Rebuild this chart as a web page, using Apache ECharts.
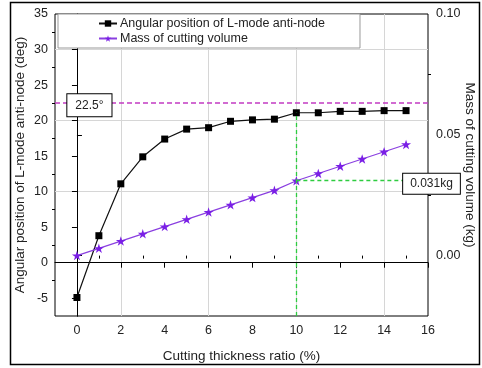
<!DOCTYPE html>
<html>
<head>
<meta charset="utf-8">
<script src="https://cdn.jsdelivr.net/npm/echarts@6/dist/echarts.min.js"></script>
<style>
  html, body { margin: 0; padding: 0; background: #fff; }
  #chart { width: 482px; height: 368px; }
</style>
</head>
<body>
<div id="chart"></div>
<script>
// values
const ratio = [0, 1, 2, 3, 4, 5, 6, 7, 8, 9, 10, 11, 12, 13, 14, 15];
const angle = [-4.9, 3.8, 11.1, 14.9, 17.4, 18.8, 19.0, 19.9, 20.1, 20.2, 21.1, 21.1, 21.3, 21.3, 21.4, 21.4];
const mass = [0.000, 0.003, 0.006, 0.009, 0.012, 0.015, 0.018, 0.021, 0.024, 0.027, 0.031, 0.034, 0.037, 0.040, 0.043, 0.046];

const xTicks = [0, 2, 4, 6, 8, 10, 12, 14, 16];
const xMinor = [1, 3, 5, 7, 9, 11, 13, 15];
const angleTicks = [-5, 0, 5, 10, 15, 20, 25, 30, 35];
const angleMinor = [-2.5, 2.5, 7.5, 12.5, 17.5, 22.5, 27.5, 32.5];
const massTicks = [0, 0.05, 0.1];
const massMinor = [0.025, 0.075];

const targetAngle = 22.5;
const markIdx = 10; // 10 % ratio, highlighted with the green guides

const seriesNames = ['Angular position of L-mode anti-node', 'Mass of cutting volume'];

const FONT = 'Liberation Sans';
const TXT = '#222';
const starPath = 'path://M10 0 L12.245 6.91 L19.511 6.91 L13.633 11.18 L15.878 18.09 L10 13.82 L4.122 18.09 L6.367 11.18 L0.489 6.91 L7.755 6.91 Z';

const chart = echarts.init(document.getElementById('chart'), null, { renderer: 'canvas' });

const gridLines = { show: true, lineStyle: { color: ['rgba(0,0,0,0)', '#d6d6d6'], width: 1 } };
const label = { fontFamily: FONT, fontSize: 12.5, color: TXT };

const option = {
  animation: false,
  backgroundColor: '#fff',
  textStyle: { fontFamily: FONT },
  grid: {
    left: 55, right: 54, top: 14, bottom: 52,
    show: true, borderColor: '#000', borderWidth: 1,
    backgroundColor: 'transparent',
    outerBoundsMode: 'none'
  },
  graphic: [{
    type: 'rect', silent: true, z: 100,
    shape: { x: 10.5, y: 2.5, width: 469, height: 362 },
    style: { fill: 'none', stroke: '#000', lineWidth: 1.5 }
  }],
  legend: {
    data: seriesNames,
    orient: 'vertical',
    left: 58, top: 14,
    padding: [3, 35, 3, 40],
    itemGap: 2,
    itemWidth: 18, itemHeight: 8,
    backgroundColor: '#fff',
    borderColor: '#999', borderWidth: 1,
    textStyle: { fontFamily: FONT, fontSize: 12.5, color: TXT, padding: [0, 0, 0, -2] }
  },
  xAxis: [{
    type: 'value', min: -1, max: 16, interval: 1,
    position: 'bottom',
    name: 'Cutting thickness ratio (%)',
    nameLocation: 'middle', nameGap: 33, nameMoveOverlap: false,
    nameTextStyle: { fontFamily: FONT, fontSize: 13.5, color: TXT },
    axisLine: { show: true, lineStyle: { color: '#000', width: 1 } },
    axisTick: { show: true, customValues: xTicks, length: 5, lineStyle: { color: '#000' } },
    axisLabel: Object.assign({ customValues: xTicks, margin: 8 }, label),
    splitLine: gridLines
  }, {
    type: 'value', min: -1, max: 16, interval: 1,
    position: 'bottom',
    axisLine: { show: false },
    axisTick: { show: true, customValues: xMinor, length: 3, lineStyle: { color: '#000' } },
    axisLabel: { show: false },
    splitLine: { show: false }
  }],
  yAxis: [{
    type: 'value', min: -7.5, max: 35, interval: 2.5,
    position: 'left',
    name: 'Angular position of L-mode anti-node (deg)',
    nameLocation: 'middle', nameGap: 28, nameRotate: 90, nameMoveOverlap: false,
    nameTextStyle: { fontFamily: FONT, fontSize: 13.5, color: TXT },
    axisLine: { show: true, lineStyle: { color: '#000', width: 1 } },
    axisTick: { show: true, customValues: angleTicks, length: 5, lineStyle: { color: '#000' } },
    axisLabel: Object.assign({ customValues: angleTicks, margin: 7 }, label),
    splitLine: gridLines
  }, {
    type: 'value', min: -0.025, max: 0.1, interval: 0.025,
    position: 'right',
    name: 'Mass of cutting volume (kg)',
    nameLocation: 'middle', nameGap: 35, nameRotate: -90, nameMoveOverlap: false,
    nameTextStyle: { fontFamily: FONT, fontSize: 13.5, color: TXT },
    axisLine: { show: true, lineStyle: { color: '#000', width: 1 } },
    axisTick: { show: true, customValues: massTicks, length: 5, lineStyle: { color: '#000' } },
    axisLabel: Object.assign({ customValues: massTicks, margin: 8, formatter: v => v.toFixed(2) }, label),
    splitLine: { show: false }
  }, {
    type: 'value', min: -7.5, max: 35, interval: 2.5,
    position: 'left',
    axisLine: { show: false },
    axisTick: { show: true, customValues: angleMinor, length: 3, lineStyle: { color: '#000' } },
    axisLabel: { show: false },
    splitLine: { show: false }
  }, {
    type: 'value', min: -0.025, max: 0.1, interval: 0.025,
    position: 'right',
    axisLine: { show: false },
    axisTick: { show: true, customValues: massMinor, length: 3, lineStyle: { color: '#000' } },
    axisLabel: { show: false },
    splitLine: { show: false }
  }],
  series: [{
    name: seriesNames[0],
    type: 'line',
    xAxisIndex: 0, yAxisIndex: 0,
    data: ratio.map((x, i) => [x, angle[i]]),
    symbol: 'rect', symbolSize: 7,
    itemStyle: { color: '#000' },
    lineStyle: { color: '#111', width: 1.2 },
    z: 3,
    markLine: {
      silent: true, symbol: ['none', 'none'],
      label: { show: false },
      data: [
        { yAxis: targetAngle, lineStyle: { color: '#c23bc2', type: [5, 3], width: 1.5 } },
        [
          { coord: [ratio[markIdx], -7.5], lineStyle: { color: '#2ecc40', type: [4, 3], width: 1.3 } },
          { coord: [ratio[markIdx], angle[markIdx]] }
        ]
      ]
    },
    markPoint: {
      silent: true, symbol: 'rect', symbolSize: 1,
      itemStyle: { color: 'rgba(0,0,0,0)' },
      data: [{
        coord: [0.5, targetAngle],
        label: {
          show: true, position: 'inside', offset: [1.5, 2.5],
          formatter: targetAngle + '°',
          fontFamily: FONT, fontSize: 12, color: TXT, lineHeight: 14,
          backgroundColor: '#fff', borderColor: '#000', borderWidth: 1,
          padding: [4, 8]
        }
      }]
    }
  }, {
    name: seriesNames[1],
    type: 'line',
    xAxisIndex: 0, yAxisIndex: 1,
    data: ratio.map((x, i) => [x, mass[i]]),
    symbol: starPath, symbolSize: 10, symbolKeepAspect: true,
    itemStyle: { color: '#7a1fe6' },
    lineStyle: { color: '#8a3fe0', width: 1.2 },
    z: 4,
    markLine: {
      silent: true, symbol: ['none', 'none'],
      label: { show: false },
      data: [[
        { coord: [ratio[markIdx], mass[markIdx]], lineStyle: { color: '#2ecc40', type: [4, 3], width: 1.3 } },
        { coord: [16, mass[markIdx]] }
      ]]
    },
    markPoint: {
      silent: true, symbol: 'rect', symbolSize: 1,
      itemStyle: { color: 'rgba(0,0,0,0)' },
      data: [{
        coord: [16, mass[markIdx]],
        label: {
          show: true, position: 'inside', offset: [3.5, 3],
          formatter: mass[markIdx].toFixed(3) + 'kg',
          fontFamily: FONT, fontSize: 12, color: TXT, lineHeight: 14,
          backgroundColor: '#fff', borderColor: '#000', borderWidth: 1,
          padding: [3, 7]
        }
      }]
    }
  }]
};

chart.setOption(option);
</script>
</body>
</html>
